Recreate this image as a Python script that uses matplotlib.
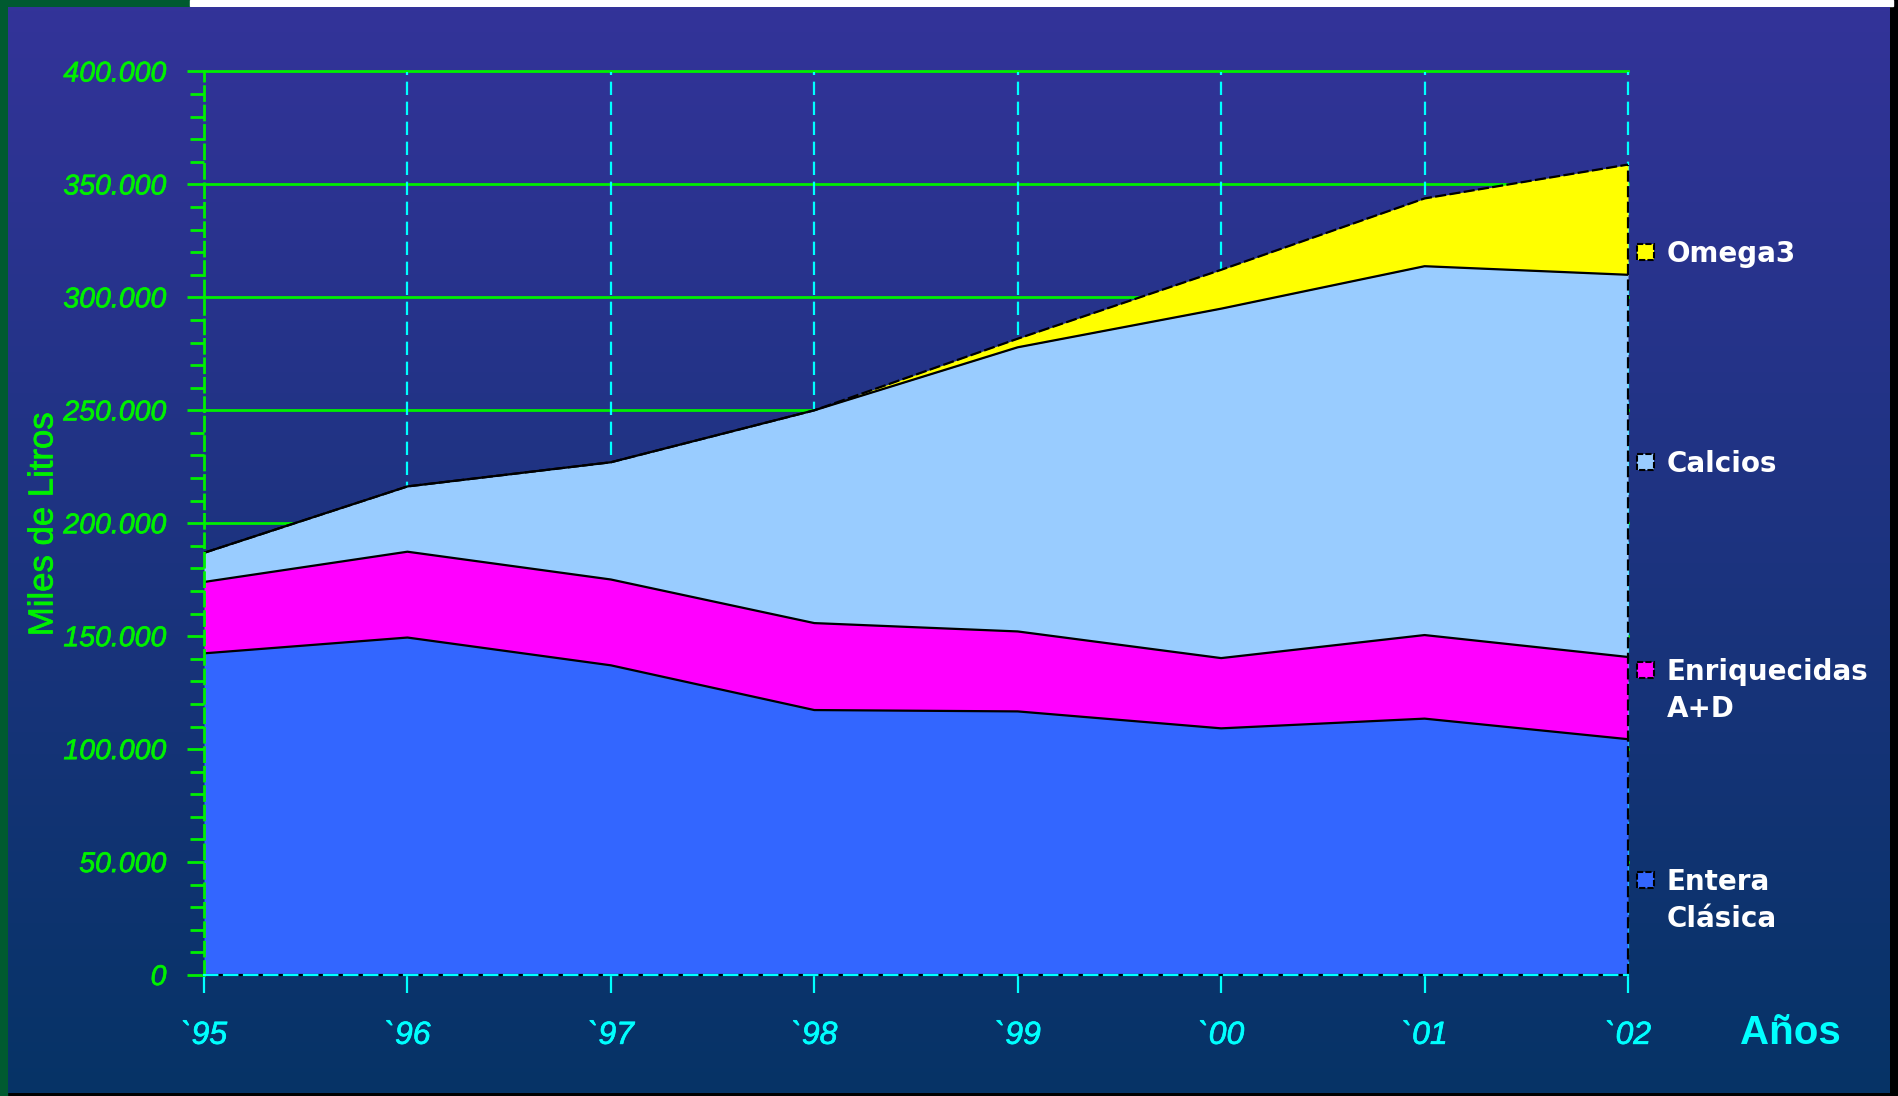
import numpy as np
import matplotlib.pyplot as plt
import matplotlib.patheffects as pe
from matplotlib.patches import Rectangle
from matplotlib.ticker import FuncFormatter, MultipleLocator

# Consumo de leches especiales, miles de litros
years = [1995, 1996, 1997, 1998, 1999, 2000, 2001, 2002]
year_labels = ["`95", "`96", "`97", "`98", "`99", "`00", "`01", "`02"]
entera = [142400, 149400, 137100, 117300, 116700, 109200, 113500, 104400]
enriquecidas = [31600, 38000, 38000, 38500, 35400, 31100, 37000, 36400]
calcios = [12900, 28900, 51900, 94200, 125800, 154700, 163300, 169200]
omega3 = [0, 0, 0, 0, 3800, 17200, 30000, 48800]

series_names = ["Entera\nClásica", "Enriquecidas\nA+D", "Calcios", "Omega3"]
series_colors = ["#3366ff", "#ff00ff", "#99ccff", "#ffff00"]

GREEN = "#00f000"
CYAN = "#00ffff"
W, H = 1898, 1096

fig = plt.figure(figsize=(W / 100, H / 100), dpi=100, facecolor="black")

# marco y fondo degradado
bg = fig.add_axes([0, 0, 1, 1], zorder=-1)
bg.set_xlim(0, W)
bg.set_ylim(H, 0)
bg.axis("off")
bg.add_patch(Rectangle((0, 0), 7, H, color="#005a30"))
bg.add_patch(Rectangle((0, 0), 190, 7, color="#005a30"))
bg.add_patch(Rectangle((190, 0), 1703, 6, color="white"))
grad = np.linspace(0, 1, 256)[:, None]
top = np.array([0x33, 0x33, 0x99]) / 255
bot = np.array([0x06, 0x33, 0x66]) / 255
img = top + (bot - top) * grad[..., None]
bg.imshow(img, extent=[8, 1890, 1093, 7], aspect="auto", zorder=1)

left, right, ytop, ybot = 204, 1628, 71.5, 975
ax = fig.add_axes([left / W, 1 - ybot / H, (right - left) / W, (ybot - ytop) / H])
ax.set_facecolor("none")
ax.set_xlim(years[0], years[-1])
ax.set_ylim(0, 400000)

# rejilla
for v in range(50000, 400001, 50000):
    ax.axhline(v, color=GREEN, lw=2, zorder=1, clip_on=False)
for x in years[1:]:
    ax.axvline(x, color=CYAN, lw=1.6, ls=(0, (6, 3)), zorder=1, clip_on=False)

# areas apiladas
base = np.zeros(len(years))
layers = [entera, enriquecidas, calcios, omega3]
for i, (vals, col) in enumerate(zip(layers, series_colors)):
    topv = base + np.array(vals)
    ax.fill_between(years, base, topv, color=col, lw=0, zorder=2)
    ax.plot(years, topv, color="black", lw=1.6,
            ls=(0, (5, 1.5)) if i == 3 else "-", zorder=3)
    base = topv
ax.plot([years[-1], years[-1]], [0, base[-1]], color="black", lw=1.6,
        ls=(0, (5, 2)), zorder=4, clip_on=False)

# ejes
for s in ["top", "right"]:
    ax.spines[s].set_visible(False)
ax.spines["left"].set_color(GREEN)
ax.spines["left"].set_linewidth(2)
ax.spines["left"].set_linestyle((0, (5, 2)))
ax.spines["left"].set_zorder(5)
ax.axhline(0, color="black", lw=1.6, zorder=4, clip_on=False)
ax.spines["bottom"].set_color(CYAN)
ax.spines["bottom"].set_linewidth(1.6)
ax.spines["bottom"].set_linestyle((0, (6, 3)))
ax.spines["bottom"].set_zorder(5)

ax.yaxis.set_major_locator(MultipleLocator(50000))
ax.yaxis.set_minor_locator(MultipleLocator(10000))
ax.yaxis.set_major_formatter(FuncFormatter(
    lambda v, p: "0" if v == 0 else f"{int(v):,}".replace(",", ".")))
ax.tick_params(axis="y", which="major", direction="out", length=12, width=2,
               color=GREEN, labelcolor=GREEN, pad=15)
ax.tick_params(axis="y", which="minor", direction="out", length=10, width=2,
               color=GREEN)
for t in ax.get_yticklabels():
    t.set_fontfamily(["Liberation Sans", "DejaVu Sans"])
    t.set_fontstyle("italic")
    t.set_fontsize(20.5)
    t.set_path_effects([pe.withStroke(linewidth=0.5, foreground=GREEN)])

ax.set_xticks(years)
ax.set_xticklabels(year_labels)
ax.tick_params(axis="x", direction="out", length=13, width=1.6, color=CYAN,
               labelcolor=CYAN, pad=20)
for t in ax.get_xticklabels():
    t.set_fontfamily(["Liberation Sans", "DejaVu Sans"])
    t.set_fontstyle("italic")
    t.set_fontsize(23)
    t.set_path_effects([pe.withStroke(linewidth=0.5, foreground=CYAN)])

# titulos de ejes
bg.text(43, 524, "Miles de Litros", color=GREEN, fontsize=25, rotation=90,
        ha="center", va="center", family=["Liberation Sans", "DejaVu Sans"],
        path_effects=[pe.withStroke(linewidth=0.5, foreground=GREEN)])
bg.text(1790, 1033, "Años", color=CYAN, fontsize=29, fontweight="bold",
        ha="center", va="center", family=["Liberation Sans", "DejaVu Sans"])

# leyenda
legend_y = [880, 670, 462, 252]
for name, col, y in zip(series_names, series_colors, legend_y):
    bg.add_patch(Rectangle((1637, y - 8), 17, 16, facecolor=col,
                           edgecolor="black", lw=1.5, ls=(0, (3, 1)), zorder=3))
    bg.text(1667, y - 12, name, color="white", fontsize=20, fontweight="bold",
            ha="left", va="top", linespacing=1.42, family="DejaVu Sans", zorder=3)

fig.savefig("out.png", dpi=100, facecolor=fig.get_facecolor())
